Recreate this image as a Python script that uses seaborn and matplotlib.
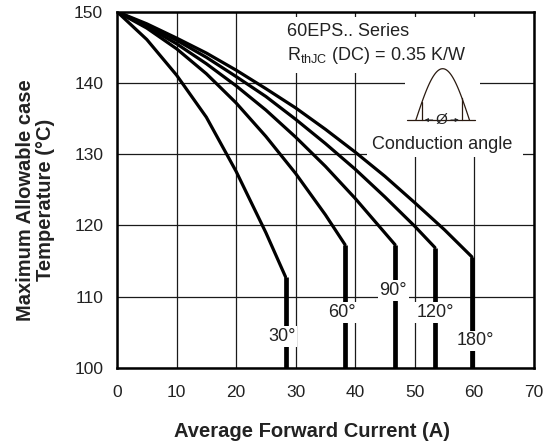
import numpy as np
import pandas as pd
import matplotlib
matplotlib.use("Agg")
import matplotlib.pyplot as plt
from matplotlib.patches import Rectangle
import seaborn as sns

# ---- data ----
angles = ["30°", "60°", "90°", "120°", "180°"]
x30 = [0, 5, 10, 15, 20, 25, 28.3]
y30 = [150, 146.1, 141.1, 135.2, 127.6, 119.0, 112.8]
x60 = [0, 5, 10, 15, 20, 25, 30, 35, 38.3]
y60 = [150, 147.7, 144.8, 141.3, 137.2, 132.5, 127.3, 121.5, 117.3]
x90 = [0, 5, 10, 15, 20, 25, 30, 35, 40, 46.7]
y90 = [150, 147.9, 145.5, 142.7, 139.6, 136.2, 132.4, 128.3, 123.8, 117.3]
x120 = [0, 5, 10, 15, 20, 25, 30, 35, 40, 45, 50, 53.4]
y120 = [150, 148.1, 146.0, 143.6, 140.9, 138.1, 134.9, 131.5, 127.9, 124.0, 119.9, 116.9]
x180 = [0, 5, 10, 15, 20, 25, 30, 35, 40, 45, 50, 55, 59.6]
y180 = [150, 148.3, 146.3, 144.2, 141.8, 139.2, 136.5, 133.5, 130.3, 126.9, 123.2, 119.4, 115.6]
label_x = [27.7, 37.8, 46.4, 53.4, 60.2]
label_y = [104.4, 107.8, 110.9, 107.8, 103.8]
xticks = [0, 10, 20, 30, 40, 50, 60, 70]
yticks = [100, 110, 120, 130, 140, 150]

curves_x = [x30, x60, x90, x120, x180]
curves_y = [y30, y60, y90, y120, y180]

sns.set_theme(style="white")
plt.rcParams["font.family"] = ["Liberation Sans", "DejaVu Sans"]
plt.rcParams["mathtext.fontset"] = "custom"
plt.rcParams["mathtext.rm"] = "Liberation Sans"

TXT = "#222222"
FS = 13

fig = plt.figure(figsize=(5.43, 4.48), dpi=100)
ax = fig.add_axes([0.2155, 0.1786, 0.7675, 0.7953])

ax.set_xlim(0, 70)
ax.set_ylim(100, 150)
ax.set_xticks(xticks)
ax.set_yticks(yticks)
ax.grid(True, color="#1a1a1a", linewidth=0.9)
ax.set_axisbelow(True)
for s in ax.spines.values():
    s.set_color("black")
    s.set_linewidth(1.8)
ax.tick_params(length=0, labelsize=12.5, colors=TXT)
ax.tick_params(axis="x", pad=12)
ax.tick_params(axis="y", pad=10)

# white areas behind the annotation
for (rx, ry, rw, rh) in [(28.0, 141.4, 33.5, 7.9), (48.4, 133.4, 12.6, 8.0), (42.0, 129.6, 26.2, 3.8)]:
    ax.add_patch(Rectangle((rx, ry), rw, rh, facecolor="white", edgecolor="none", zorder=1.5))

for a, xs, ys in zip(angles, curves_x, curves_y):
    df = pd.DataFrame({"I": xs, "T": ys})
    sns.lineplot(data=df, x="I", y="T", ax=ax, color="black", linewidth=2.3,
                 estimator=None, sort=False, zorder=3, solid_capstyle="round")
    ax.plot([xs[-1], xs[-1]], [ys[-1], 100], color="black", linewidth=3.4,
            solid_capstyle="butt", zorder=3)

for a, lx, ly in zip(angles, label_x, label_y):
    ax.text(lx, ly, a, ha="center", va="center", fontsize=FS, color=TXT, zorder=5,
            bbox=dict(boxstyle="square,pad=0.1", facecolor="white", edgecolor="none"))

ax.set_xlabel("")
ax.set_ylabel("")
ax.text(28.5, 147.2, "60EPS.. Series", ha="left", va="center", fontsize=FS, color=TXT, zorder=5)
ax.text(28.5, 143.9, r"R$_\mathregular{thJC}$ (DC) = 0.35 K/W", ha="left", va="center",
        fontsize=FS, color=TXT, zorder=5)

# conduction angle icon
xa = np.linspace(50.2, 59.2, 80)
ya = 134.8 + 7.2 * np.sin(np.pi * (xa - 50.2) / 9.0)
ax.plot(xa, ya, color="#2a1a10", linewidth=0.9, zorder=4)
ax.plot([48.7, 60.2], [134.8, 134.8], color="#2a1a10", linewidth=0.9, zorder=4)
for cx in (51.2, 57.9):
    cy = 134.8 + 7.2 * np.sin(np.pi * (cx - 50.2) / 9.0)
    ax.plot([cx, cx], [134.8, cy], color="#2a1a10", linewidth=0.9, zorder=4)
ax.text(54.55, 134.8, "Ø", ha="center", va="center", fontsize=11, color=TXT, zorder=5)
ax.annotate("", xy=(51.2, 134.8), xytext=(53.5, 134.8),
            arrowprops=dict(arrowstyle="-|>", color=TXT, lw=0.7, mutation_scale=5), zorder=5)
ax.annotate("", xy=(57.9, 134.8), xytext=(55.6, 134.8),
            arrowprops=dict(arrowstyle="-|>", color=TXT, lw=0.7, mutation_scale=5), zorder=5)
ax.text(54.7, 131.4, "Conduction angle", ha="center", va="center", fontsize=FS, color=TXT, zorder=5)

fig.text(0.575, 0.036, "Average Forward Current (A)", ha="center", va="center",
         fontsize=14.5, fontweight="bold", color=TXT)
fig.text(0.065, 0.553, "Maximum Allowable case\nTemperature (°C)", ha="center", va="center",
         rotation=90, fontsize=14.5, fontweight="bold", color=TXT, linespacing=1.1)

fig.savefig("out.png", dpi=100)
